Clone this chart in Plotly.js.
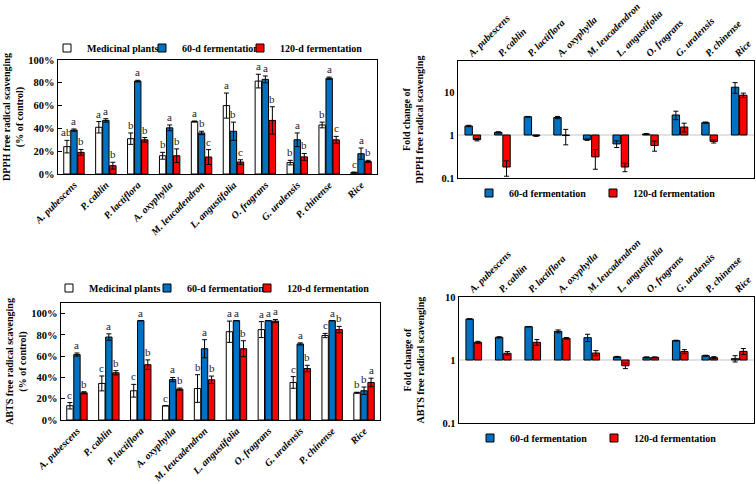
<!DOCTYPE html>
<html><head><meta charset="utf-8">
<script src="https://cdn.plot.ly/plotly-3.0.1.min.js"></script>
<style>html,body{margin:0;padding:0;background:#fff}#chart{width:756px;height:484px}</style>
</head><body><div id="chart"></div>
<script>
const categories = ['A. pubescens','P. cablin','P. lactiflora','A. oxyphylla','M. leucadendron','L. angustifolia','O. fragrans','G. uralensis','P. chinense','Rice'];
const seriesNames = ['Medicinal plants','60-d fermentation','120-d fermentation'];

// DPPH free radical scavenging (% of control, as fraction)
const dpphPlants    = [0.24,0.41,0.31,0.16,0.46,0.60,0.815,0.10,0.43,0.012];
const dpphPlantsErr = [0.055,0.05,0.05,0.03,0.005,0.11,0.06,0.02,0.025,0.005];
const dpph60        = [0.385,0.47,0.815,0.405,0.36,0.375,0.83,0.30,0.84,0.178];
const dpph60Err     = [0.01,0.015,0.007,0.025,0.015,0.08,0.03,0.06,0.01,0.05];
const dpph120       = [0.19,0.073,0.30,0.16,0.149,0.105,0.47,0.15,0.30,0.11];
const dpph120Err    = [0.025,0.03,0.02,0.06,0.065,0.02,0.12,0.03,0.03,0.01];
const dpphLettersPlants = ['ab','a','b','b','a','a','a','b','b','c'];
const dpphLetters60     = ['a','a','a','a','b','b','a','a','a','a'];
const dpphLetters120    = ['b','b','b','b','c','c','b','b','c','b'];

// ABTS free radical scavenging (% of control, as fraction)
const abtsPlants    = [0.134,0.344,0.275,0.134,0.296,0.83,0.85,0.353,0.794,0.256];
const abtsPlantsErr = [0.03,0.07,0.06,0.0,0.13,0.10,0.075,0.055,0.02,0.005];
const abts60        = [0.615,0.78,0.934,0.38,0.67,0.934,0.934,0.715,0.934,0.275];
const abts60Err     = [0.015,0.03,0,0.02,0.085,0,0,0.01,0,0.035];
const abts120       = [0.256,0.444,0.52,0.29,0.378,0.67,0.93,0.484,0.85,0.353];
const abts120Err    = [0.01,0.02,0.045,0.01,0.035,0.075,0.015,0.03,0.03,0.04];
const abtsLettersPlants = ['c','c','c','c','b','a','a','c','c','b'];
const abtsLetters60     = ['a','a','a','a','a','a','a','a','a','b'];
const abtsLetters120    = ['b','b','b','b','b','b','a','b','b','a'];

// Fold change of DPPH scavenging
const dpphFold60     = [1.62,1.15,2.65,2.55,0.78,0.62,1.05,2.92,1.94,12.9];
const dpphFold60Err  = [0.06,0.04,0.05,0.15,0.03,0.11,0.03,0.65,0.06,3.6];
const dpphFold120    = [0.78,0.18,0.96,0.97,0.31,0.18,0.57,1.53,0.71,8.4];
const dpphFold120Err = [0.05,0.07,0.03,0.38,0.15,0.04,0.15,0.35,0.06,1.0];

// Fold change of ABTS scavenging
const abtsFold60     = [4.47,2.29,3.38,2.85,2.26,1.12,1.10,2.03,1.17,1.05];
const abtsFold60Err  = [0.05,0.05,0.03,0.15,0.3,0.02,0.02,0.03,0.02,0.12];
const abtsFold120    = [1.91,1.28,1.91,2.21,1.29,0.81,1.10,1.36,1.09,1.37];
const abtsFold120Err = [0.07,0.08,0.2,0.06,0.12,0.08,0.02,0.1,0.04,0.15];

const SERIF = '"Liberation Serif", "Times New Roman", serif';
const BLUE = '#0070C0', RED = '#FF0000', WHITE = '#FFFFFF';
const idx = categories.map((c, i) => i);

// left panels: 3 bars per group
const leftW = 0.2, leftOff = [-0.32, -0.1, 0.12];
// right panels: 2 bars per group
const rightW = 0.25, rightOff = [-0.265, 0.015];

function barTrace(name, vals, errs, color, xa, ya, off, w, base) {
  const t = {
    type: 'bar', name: name, x: idx,
    y: base ? vals.map(v => v - base) : vals,
    xaxis: xa, yaxis: ya, offset: off, width: w,
    marker: {color: color, line: {color: '#000', width: 1}},
    error_y: {type: 'data', array: errs, visible: true, color: '#000', thickness: 1, width: 2.5},
    showlegend: false, hoverinfo: 'skip'
  };
  if (base) t.base = base;
  return t;
}
// legend swatches (no data points)
function legendEntry(name, color, legend, xa, ya) {
  return {
    type: 'scatter', mode: 'markers', name: name, x: [null], y: [null], xaxis: xa, yaxis: ya,
    marker: {symbol: 'square', size: 8, color: color, line: {color: '#000', width: 1}},
    legend: legend, showlegend: true, hoverinfo: 'skip'
  };
}

const data = [
  barTrace(seriesNames[0], dpphPlants, dpphPlantsErr, WHITE, 'x', 'y', leftOff[0], leftW),
  barTrace(seriesNames[1], dpph60, dpph60Err, BLUE, 'x', 'y', leftOff[1], leftW),
  barTrace(seriesNames[2], dpph120, dpph120Err, RED, 'x', 'y', leftOff[2], leftW),
  barTrace(seriesNames[0], abtsPlants, abtsPlantsErr, WHITE, 'x2', 'y2', leftOff[0], leftW),
  barTrace(seriesNames[1], abts60, abts60Err, BLUE, 'x2', 'y2', leftOff[1], leftW),
  barTrace(seriesNames[2], abts120, abts120Err, RED, 'x2', 'y2', leftOff[2], leftW),
  barTrace(seriesNames[1], dpphFold60, dpphFold60Err, BLUE, 'x3', 'y3', rightOff[0], rightW, 1),
  barTrace(seriesNames[2], dpphFold120, dpphFold120Err, RED, 'x3', 'y3', rightOff[1], rightW, 1),
  barTrace(seriesNames[1], abtsFold60, abtsFold60Err, BLUE, 'x4', 'y4', rightOff[0], rightW, 1),
  barTrace(seriesNames[2], abtsFold120, abtsFold120Err, RED, 'x4', 'y4', rightOff[1], rightW, 1),
  legendEntry(seriesNames[0], WHITE, 'legend', 'x', 'y'),
  legendEntry(seriesNames[1], BLUE, 'legend2', 'x', 'y'),
  legendEntry(seriesNames[2], RED, 'legend3', 'x', 'y'),
  legendEntry(seriesNames[0], WHITE, 'legend4', 'x2', 'y2'),
  legendEntry(seriesNames[1], BLUE, 'legend5', 'x2', 'y2'),
  legendEntry(seriesNames[2], RED, 'legend6', 'x2', 'y2'),
  legendEntry(seriesNames[1], BLUE, 'legend7', 'x3', 'y3'),
  legendEntry(seriesNames[2], RED, 'legend8', 'x3', 'y3'),
  legendEntry(seriesNames[1], BLUE, 'legend9', 'x4', 'y4'),
  legendEntry(seriesNames[2], RED, 'legend10', 'x4', 'y4')
];

// significance letters
const annotations = [];
function addLetters(letters, vals, errs, off, xa, ya) {
  letters.forEach((l, i) => {
    annotations.push({
      text: l, x: i + off + leftW / 2, y: vals[i] + errs[i], xref: xa, yref: ya,
      xanchor: 'center', yanchor: 'bottom', yshift: 0, showarrow: false,
      font: {family: SERIF, size: 11, color: '#222'}
    });
  });
}
addLetters(dpphLettersPlants, dpphPlants, dpphPlantsErr, leftOff[0], 'x', 'y');
addLetters(dpphLetters60, dpph60, dpph60Err, leftOff[1], 'x', 'y');
addLetters(dpphLetters120, dpph120, dpph120Err, leftOff[2], 'x', 'y');
addLetters(abtsLettersPlants, abtsPlants, abtsPlantsErr, leftOff[0], 'x2', 'y2');
addLetters(abtsLetters60, abts60, abts60Err, leftOff[1], 'x2', 'y2');
addLetters(abtsLetters120, abts120, abts120Err, leftOff[2], 'x2', 'y2');

const W = 756, H = 484;
const px = (a, b) => [a / W, b / W];
const py = (top, bottom) => [1 - bottom / H, 1 - top / H];

const tickFont = {family: SERIF, size: 10.5, color: '#000', weight: 'bold'};
const catFont = {family: SERIF, size: 10, color: '#000', weight: 'bold', style: 'italic'};
const titleFont = {family: SERIF, size: 10, color: '#000', weight: 'bold'};
const legendFont = {family: SERIF, size: 10, color: '#000', weight: 'bold'};

function catAxis(domain, anchor, side, shift, standoff) {
  return {
    domain: domain, anchor: anchor, type: 'linear', range: [-0.5, 9.5],
    tickmode: 'array', tickvals: idx, ticktext: categories, tickangle: -45, ticklabeloverflow: 'allow',
    ticklabelshift: shift, ticklabelstandoff: standoff, tickfont: catFont, side: side,
    showline: true, mirror: true, linecolor: '#000', linewidth: 1.3,
    showgrid: false, zeroline: false, ticks: '', fixedrange: true
  };
}
function leg(textLeft, yCenter) {
  return {orientation: 'h', x: (textLeft - 38) / W, y: 1 - yCenter / H, xanchor: 'left', yanchor: 'middle',
          font: legendFont, bgcolor: 'rgba(0,0,0,0)', itemwidth: 30};
}

const layout = {
  width: W, height: H, margin: {l: 0, r: 0, t: 0, b: 0},
  paper_bgcolor: '#fff', plot_bgcolor: '#fff', barmode: 'overlay',
  showlegend: true,
  xaxis: catAxis(px(58, 377), 'y', 'bottom', 0, 0),
  yaxis: {
    domain: py(60, 174), anchor: 'x', range: [0, 1], tickmode: 'linear', tick0: 0, dtick: 0.2,
    tickformat: '.0%', tickfont: tickFont, ticks: 'inside', ticklen: 4, tickcolor: '#000',
    showline: true, mirror: true, linecolor: '#000', linewidth: 1.3, showgrid: false, zeroline: false,
    title: {text: 'DPPH free radical scavenging<br>(% of control)', font: titleFont, standoff: 2}
  },
  xaxis2: catAxis(px(61, 380), 'y2', 'bottom', 0, 0),
  yaxis2: {
    domain: py(303, 420), anchor: 'x2', range: [0, 1.1], tickmode: 'linear', tick0: 0, dtick: 0.2,
    tickformat: '.0%', tickfont: tickFont, ticks: 'inside', ticklen: 4, tickcolor: '#000',
    showline: true, mirror: true, linecolor: '#000', linewidth: 1.3, showgrid: false, zeroline: false,
    title: {text: 'ABTS free radical scavenging<br>(% of control)', font: titleFont, standoff: 2}
  },
  xaxis3: catAxis(px(458, 754), 'y3', 'top', -4, -3),
  yaxis3: {
    domain: py(61, 178), anchor: 'x3', type: 'log', range: [-1, 1.72],
    tickmode: 'array', tickvals: [0.1, 1, 10], ticktext: ['0.1', '1', '10'], tickfont: tickFont, ticks: '',
    showline: true, mirror: true, linecolor: '#000', linewidth: 1.3, showgrid: false, zeroline: false,
    title: {text: 'Fold change of<br>DPPH free radical scavenging', font: titleFont, standoff: 16}
  },
  xaxis4: catAxis(px(459, 754), 'y4', 'top', -4, -3),
  yaxis4: {
    domain: py(297, 423), anchor: 'x4', type: 'log', range: [-1, 1],
    tickmode: 'array', tickvals: [0.1, 1, 10], ticktext: ['0.1', '1', '10'], tickfont: tickFont, ticks: '',
    showline: true, mirror: true, linecolor: '#000', linewidth: 1.3, showgrid: false, zeroline: false,
    title: {text: 'Fold change of<br>ABTS free radical scavenging', font: titleFont, standoff: 16}
  },
  legend:  leg(85, 48),
  legend2: leg(180, 48),
  legend3: leg(278, 48),
  legend4: leg(87, 288),
  legend5: leg(185, 288),
  legend6: leg(285, 288),
  legend7: leg(507, 193),
  legend8: leg(631, 193),
  legend9: leg(508, 438),
  legend10: leg(632, 438),
  shapes: [
    {type: 'line', xref: 'x3 domain', x0: 0, x1: 1, yref: 'y3', y0: 1, y1: 1, line: {color: '#d9d9d9', width: 1.5}, layer: 'below'},
    {type: 'line', xref: 'x4 domain', x0: 0, x1: 1, yref: 'y4', y0: 1, y1: 1, line: {color: '#d9d9d9', width: 1.5}, layer: 'below'}
  ],
  annotations: annotations
};

Plotly.newPlot('chart', data, layout, {staticPlot: true, displayModeBar: false});
</script>
</body></html>
